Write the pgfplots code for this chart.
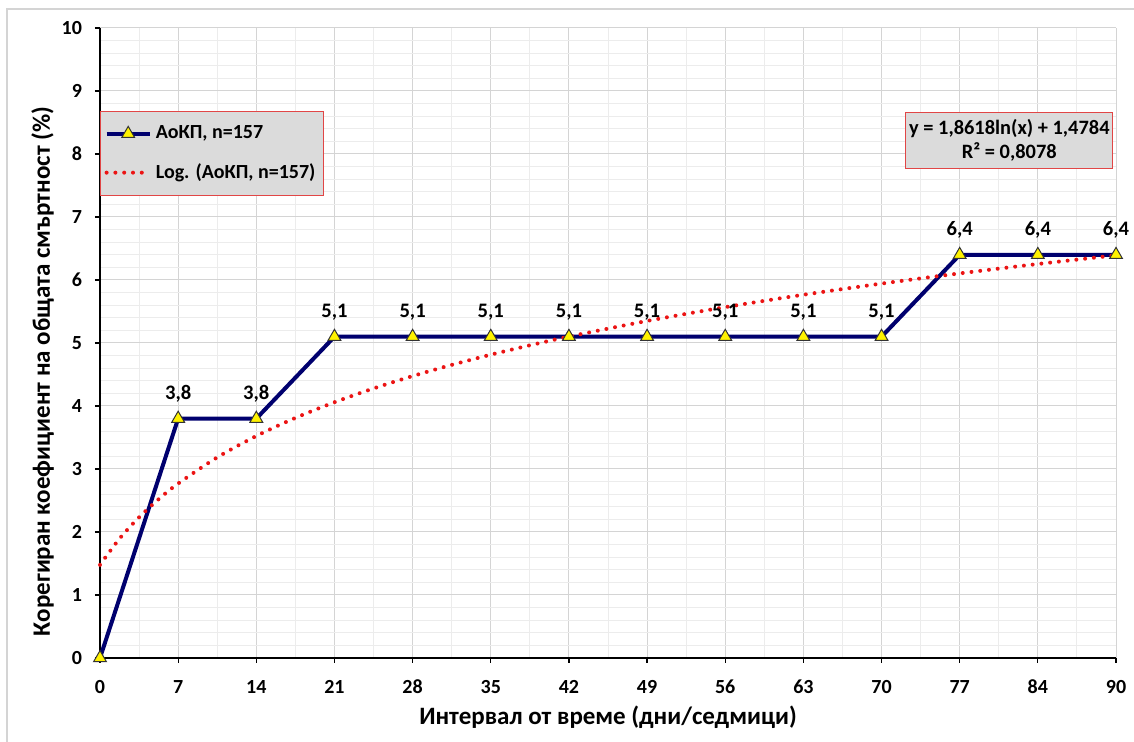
\documentclass[border=0pt]{standalone}
\usepackage{fontspec}
\setmainfont{Carlito}
\usepackage{pgfplots}
\pgfplotsset{compat=1.18}
\definecolor{navyline}{RGB}{0,0,110}
\definecolor{trendred}{RGB}{235,20,20}
\definecolor{boxfill}{RGB}{219,219,219}
\definecolor{boxdraw}{RGB}{225,70,70}
\definecolor{majgrid}{RGB}{212,212,212}
\definecolor{mingrid}{RGB}{236,236,236}
\begin{document}
\begin{tikzpicture}
\begin{axis}[
  scale only axis, width=508pt, height=315pt,
  xmin=0, xmax=13, ymin=0, ymax=10,
  clip=false,
  axis lines*=left,
  axis line style={black, line width=0.8pt},
  xtick={0,...,13},
  xticklabels={0,7,14,21,28,35,42,49,56,63,70,77,84,90},
  ytick={0,...,10},
  minor x tick num=1, minor y tick num=4,
  grid=both,
  major grid style={draw=majgrid, line width=0.5pt},
  minor grid style={draw=mingrid, line width=0.5pt},
  tick align=outside, major tick length=2.5pt, minor tick length=0pt,
  tick style={black, line width=0.6pt},
  ticklabel style={font=\bfseries\fontsize{10}{11}\selectfont},
  xticklabel style={yshift=-5pt},
  yticklabel style={xshift=-3pt},
  /pgf/number format/assume math mode=true,
  xlabel={Интервал от време (дни/седмици)},
  ylabel={Корегиран коефициент на общата смъртност (\%)},
  label style={font=\bfseries\fontsize{12.5}{14}\selectfont},
  xlabel style={at={(axis description cs:0.5,-0.0937)}, anchor=center},
  ylabel style={at={(axis description cs:-0.0566,0.455)}, anchor=center},
  legend cell align=left,
  legend image code/.code={\draw[mark repeat=2,mark phase=2,#1] plot coordinates {(0cm,0cm) (0.38cm,0cm) (0.76cm,0cm)};},
  legend style={at={(axis description cs:0,0.868)}, anchor=north west,
    fill=boxfill, draw=boxdraw, line width=0.6pt,
    font=\bfseries\fontsize{10}{12}\selectfont,
    row sep=7pt, inner xsep=2pt, inner ysep=5pt},
]
\addplot[navyline, line width=2pt, mark=triangle*, mark size=3.7pt,
  mark options={fill=yellow, draw=black!80, line width=0.5pt}]
  coordinates {(0,0) (1,3.8) (2,3.8) (3,5.1) (4,5.1) (5,5.1) (6,5.1)
  (7,5.1) (8,5.1) (9,5.1) (10,5.1) (11,6.4) (12,6.4) (13,6.4)};
\addlegendentry{АоКП, n=157}
\addplot[trendred, line width=2pt, line cap=round, dash pattern=on 0pt off 4.4pt, smooth]
  coordinates {(0,1.4784) (0.25,1.8939) (0.5,2.2333) (0.75,2.5203) (1,2.7689)
  (1.5,3.1844) (2,3.5238) (2.5,3.8108) (3,4.0594) (3.5,4.2787) (4,4.4749)
  (4.5,4.6523) (5,4.8143) (5.5,4.9633) (6,5.1013) (7,5.3499) (8,5.5692)
  (9,5.7654) (10,5.9428) (11,6.1048) (12,6.2538) (13,6.3918)};
\addlegendentry{Log. (АоКП, n=157)}
\addplot[draw=none, mark=none, forget plot, point meta=y,
  nodes near coords={\pgfmathprintnumber[fixed,fixed zerofill,precision=1,use comma]{\pgfplotspointmeta}},
  every node near coord/.append style={font=\bfseries\fontsize{10.3}{12}\selectfont, anchor=south, yshift=4.5pt, text=black}]
  coordinates {(1,3.8) (2,3.8) (3,5.1) (4,5.1) (5,5.1) (6,5.1)
  (7,5.1) (8,5.1) (9,5.1) (10,5.1) (11,6.4) (12,6.4) (13,6.4)};
\node[fill=boxfill, draw=boxdraw, line width=0.6pt, align=center,
  font=\bfseries\fontsize{10.2}{12}\selectfont,
  minimum width=103.5pt, minimum height=28pt, inner sep=1.5pt]
  at (axis description cs:0.895,0.821) {y = 1,8618ln(x) + 1,4784\\R² = 0,8078};
\coordinate (bl) at (axis description cs:0,0);
\coordinate (tr) at (axis description cs:1,1);
\end{axis}
\draw[majgrid, line width=0.6pt] ([xshift=-46.5pt,yshift=-42pt]bl) |- ([xshift=9pt,yshift=9.5pt]tr);
\pgfresetboundingbox
\path[use as bounding box] ([xshift=-50pt,yshift=-42pt]bl) rectangle ([xshift=9pt,yshift=14pt]tr);
\end{tikzpicture}
\end{document}
